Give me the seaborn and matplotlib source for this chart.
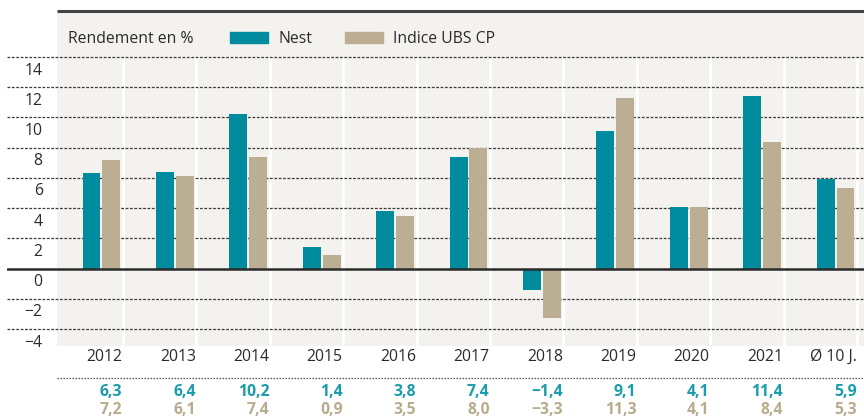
import pandas as pd
import seaborn as sns
import matplotlib.pyplot as plt
from matplotlib.patches import Rectangle

# data
categories = ['2012', '2013', '2014', '2015', '2016', '2017', '2018', '2019', '2020', '2021', 'Ø 10 J.']
nest = [6.3, 6.4, 10.2, 1.4, 3.8, 7.4, -1.4, 9.1, 4.1, 11.4, 5.9]
ubs = [7.2, 6.1, 7.4, 0.9, 3.5, 8.0, -3.3, 11.3, 4.1, 8.4, 5.3]
yticks = [14, 12, 10, 8, 6, 4, 2, 0, -2, -4]

teal = '#008c9e'
beige = '#bbae92'
teal_txt = '#1a9caa'
beige_txt = '#b8ab8e'
panel = '#f3f2ee'
dark = '#2b2b2b'
txt = '#2a2a2a'
fs = 11.3

sns.set_style('white')
plt.rcParams['font.family'] = ['Open Sans', 'DejaVu Sans']

df = pd.DataFrame({
    'cat': categories * 2,
    'val': nest + ubs,
    'serie': ['Nest'] * len(nest) + ['Indice UBS CP'] * len(ubs),
})

W, H = 864, 419
fig = plt.figure(figsize=(W / 100, H / 100), dpi=100)
# axes in pixel terms: x 7..864, y 11..346
ax = fig.add_axes([7 / W, (H - 346) / H, (864 - 7) / W, (346 - 11) / H])

sns.barplot(data=df, x='cat', y='val', hue='serie', order=categories,
            hue_order=['Nest', 'Indice UBS CP'], palette=[teal, beige],
            width=0.54, gap=0.1, saturation=1, errorbar=None, linewidth=0,
            legend=False, ax=ax, zorder=3)

xl, xr = -1.287, 10.388
pl = -0.606  # left edge of beige panel
ax.set_xlim(xl, xr)
ax.set_ylim(-5.13, 17.05)
ax.axis('off')

# panel
ax.axvspan(pl, xr, color=panel, zorder=0, lw=0)
# separators
for i in range(len(categories)):
    ax.vlines(i + 0.293, -5.13, 14, color='white', lw=2, zorder=1)
# grid
for t in yticks:
    if t != 0:
        ax.axhline(t, color='#3a3a3a', lw=0.9, ls=(0, (2.2, 1.3)), zorder=2)
    ax.text(-0.80, t - 0.9, f'{t}'.replace('-', '−'), ha='right', va='center',
            fontsize=fs, color=txt)
ax.axhline(0, color=dark, lw=1.8, zorder=4)
ax.hlines(17.05, pl, xr, color='#444444', lw=2.2, zorder=4, clip_on=False)

# legend
fig.text(68 / W, 1 - 39 / H, 'Rendement en %', fontsize=fs, color=txt, va='center')
fig.add_artist(Rectangle((230 / W, 1 - 43 / H), 38 / W, 11 / H, color=teal, transform=fig.transFigure))
fig.text(278 / W, 1 - 39 / H, 'Nest', fontsize=fs, color=txt, va='center')
fig.add_artist(Rectangle((345 / W, 1 - 43 / H), 38 / W, 11 / H, color=beige, transform=fig.transFigure))
fig.text(393 / W, 1 - 39 / H, 'Indice UBS CP', fontsize=fs, color=txt, va='center')

# table below the chart
for i, c in enumerate(categories):
    xr_px = (101.5 + 73.4 * i + 21) / W
    fig.text(xr_px, 1 - 357 / H, c, ha='right', va='center', fontsize=fs, color=txt)
    fig.text(xr_px, 1 - 392 / H, f'{nest[i]:.1f}'.replace('.', ',').replace('-', '−'),
             ha='right', va='center', fontsize=fs, color=teal_txt, fontweight='bold')
    fig.text(xr_px, 1 - 410 / H, f'{ubs[i]:.1f}'.replace('.', ',').replace('-', '−'),
             ha='right', va='center', fontsize=fs, color=beige_txt, fontweight='bold')

fig.add_artist(plt.Line2D([57 / W, 1], [1 - 378 / H] * 2, color='#555555', lw=0.9,
                          ls=(0, (1.2, 1.2)), transform=fig.transFigure))

plt.savefig('out.png', dpi=100)
